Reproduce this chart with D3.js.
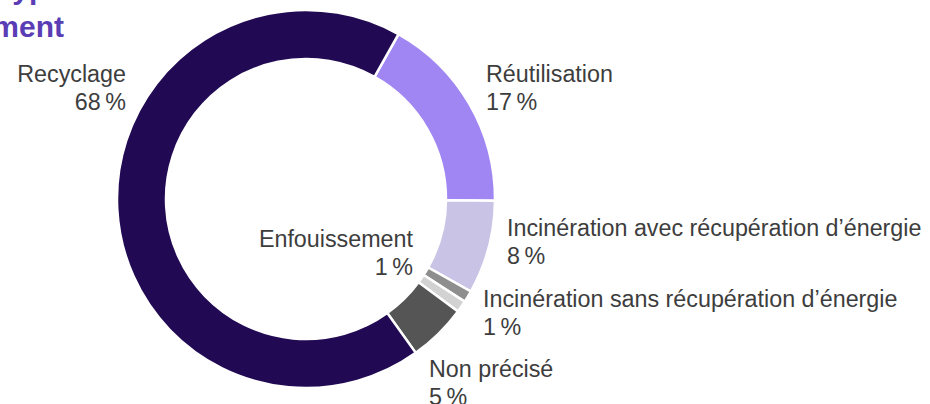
<!DOCTYPE html>
<html><head><meta charset="utf-8">
<script src="https://cdn.jsdelivr.net/npm/d3@7"></script>
<style>
html,body{margin:0;padding:0;background:#fff;overflow:hidden}
svg{display:block}
</style></head>
<body>
<svg id="chart" width="930" height="404"></svg>
<script>
// Data
const categories = ["Réutilisation", "Incinération avec récupération d’énergie", "Enfouissement", "Incinération sans récupération d’énergie", "Non précisé", "Recyclage"];
const values = [17, 8, 1, 1, 5, 68];
const valueLabels = ["17\u2009%", "8\u2009%", "1\u2009%", "1\u2009%", "5\u2009%", "68\u2009%"];
const colors = ["#a086f3", "#c9c3e5", "#8e8e8e", "#d2d2d2", "#555555", "#210a53"];
const titleLines = ["Répartition par type", "de traitement"];

// Layout
const W = 930, H = 404;
const cx = 306, cy = 199, rOuter = 189, rInner = 140;
const startDeg = 29.3;
// label anchor: [x, baselineY, anchor]
const labelLayout = [
  [486, 82, "start"],
  [507, 236, "start"],
  [413, 247, "end"],
  [483, 307, "start"],
  [429, 377, "start"],
  [126, 82, "end"]
];
const lineGap = 28;

const svg = d3.select("#chart");

// Title (cropped at left edge as in the reference)
svg.append("g").selectAll("text").data(titleLines).join("text")
  .attr("x", 64).attr("y", (d, i) => -1 + i * 38)
  .attr("text-anchor", "end")
  .attr("font-family", "Liberation Sans, Arial, sans-serif")
  .attr("font-weight", "bold").attr("font-size", 30)
  .attr("fill", "#5a3db5")
  .text(d => d);

const pie = d3.pie().sort(null).value(d => d)
  .startAngle(startDeg * Math.PI / 180)
  .endAngle(startDeg * Math.PI / 180 + 2 * Math.PI);
const arc = d3.arc().innerRadius(rInner).outerRadius(rOuter);

const g = svg.append("g").attr("transform", `translate(${cx},${cy})`);
g.selectAll("path").data(pie(values)).join("path")
  .attr("d", arc)
  .attr("fill", (d, i) => colors[i])
  .attr("stroke", "#fff").attr("stroke-width", 2.5).attr("stroke-linejoin", "miter");

const lg = svg.append("g")
  .attr("font-family", "Liberation Sans, Arial, Helvetica, sans-serif")
  .attr("font-size", 23.3).attr("fill", "#3d3d3d");
categories.forEach((c, i) => {
  const [x, y, a] = labelLayout[i];
  const t = lg.append("text").attr("text-anchor", a);
  t.append("tspan").attr("x", x).attr("y", y).text(c);
  t.append("tspan").attr("x", x).attr("y", y + lineGap).text(valueLabels[i]);
});
</script>
</body></html>
